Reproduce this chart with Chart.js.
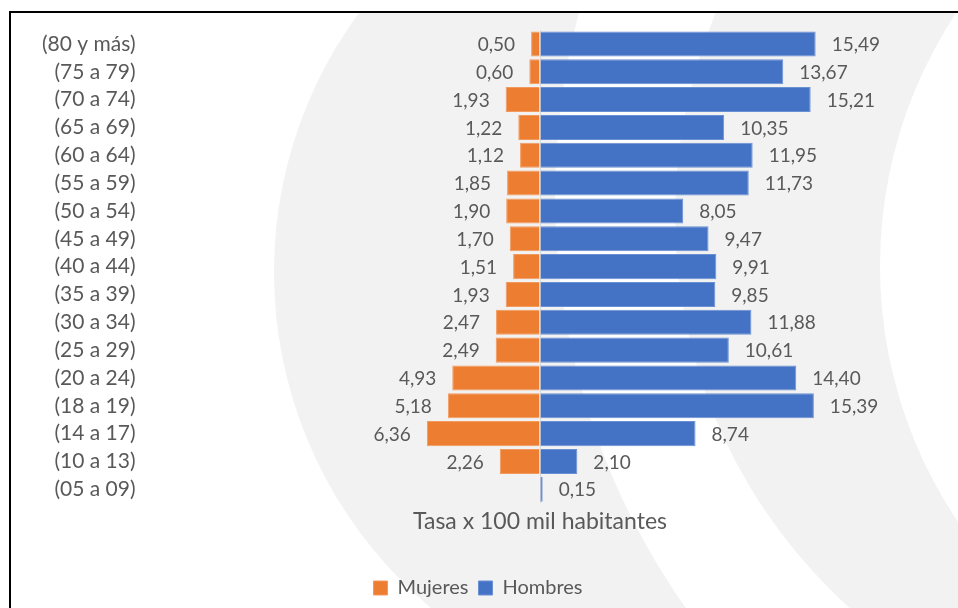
<!DOCTYPE html>
<html>
<head>
<meta charset="utf-8">
<script src="https://cdn.jsdelivr.net/npm/chart.js@4.4.1/dist/chart.umd.min.js"></script>
<style>
  html, body { margin: 0; padding: 0; background: #fff; }
</style>
</head>
<body>
<canvas id="piramide" width="958" height="608"></canvas>
<script>
// grupos de edad, de arriba hacia abajo
const grupos = ['(80 y más)', '(75 a 79)', '(70 a 74)', '(65 a 69)', '(60 a 64)', '(55 a 59)',
  '(50 a 54)', '(45 a 49)', '(40 a 44)', '(35 a 39)', '(30 a 34)', '(25 a 29)',
  '(20 a 24)', '(18 a 19)', '(14 a 17)', '(10 a 13)', '(05 a 09)'];
const mujeres = [0.50, 0.60, 1.93, 1.22, 1.12, 1.85, 1.90, 1.70, 1.51, 1.93, 2.47, 2.49, 4.93, 5.18, 6.36, 2.26, null];
const hombres = [15.49, 13.67, 15.21, 10.35, 11.95, 11.73, 8.05, 9.47, 9.91, 9.85, 11.88, 10.61, 14.40, 15.39, 8.74, 2.10, 0.15];
const ejeMin = -22;
const ejeMax = 22;

const gris = '#595959';
const fuente = 'Lato, "Open Sans", sans-serif';

function coma(v) {
  return v.toFixed(2).replace('.', ',');
}

// fondo con marco y marca de agua en arcos
const fondo = {
  id: 'fondo',
  beforeDraw(chart) {
    const ctx = chart.ctx;
    const w = chart.width, h = chart.height;
    ctx.save();
    ctx.fillStyle = '#fff';
    ctx.fillRect(0, 0, w, h);
    ctx.beginPath();
    ctx.rect(11, 13, w - 11, h - 13);
    ctx.clip();
    ctx.fillStyle = '#f2f2f2';
    // arco izquierdo
    ctx.save();
    ctx.beginPath();
    ctx.arc(712, 272, 438, 0, Math.PI * 2);
    ctx.clip();
    ctx.beginPath();
    ctx.rect(0, 0, w, h);
    ctx.arc(1269, 196, 714, 0, Math.PI * 2);
    ctx.fill('evenodd');
    ctx.restore();
    // arco derecho
    ctx.save();
    ctx.beginPath();
    ctx.arc(1202, 216, 527, 0, Math.PI * 2);
    ctx.clip();
    ctx.beginPath();
    ctx.rect(0, 0, w, h);
    ctx.arc(1339, 266, 459, 0, Math.PI * 2);
    ctx.fill('evenodd');
    ctx.restore();
    ctx.restore();
    // marco
    ctx.save();
    ctx.fillStyle = '#000';
    ctx.fillRect(9, 11, w - 9, 2);
    ctx.fillRect(9, 11, 2, h - 11);
    ctx.restore();
  }
};

// etiquetas de valor junto a cada barra
const etiquetas = {
  id: 'etiquetas',
  afterDatasetsDraw(chart) {
    const ctx = chart.ctx;
    ctx.save();
    ctx.font = '19px ' + fuente;
    ctx.fillStyle = gris;
    ctx.textBaseline = 'middle';
    chart.data.datasets.forEach((ds, i) => {
      const valores = i === 0 ? mujeres : hombres;
      chart.getDatasetMeta(i).data.forEach((bar, j) => {
        const v = valores[j];
        if (v == null) return;
        if (i === 0) {
          ctx.textAlign = 'right';
          ctx.fillText(coma(v), bar.x - 16, bar.y + 1);
        } else {
          ctx.textAlign = 'left';
          ctx.fillText(coma(v), bar.x + 16, bar.y + 1);
        }
      });
    });
    ctx.restore();
  }
};

function dibujar() {
  new Chart(document.getElementById('piramide'), {
    type: 'bar',
    data: {
      labels: grupos,
      datasets: [
        {
          label: 'Mujeres',
          data: mujeres.map(v => v == null ? null : -v),
          backgroundColor: '#ed7d31',
          borderColor: '#f29a5e',
          borderWidth: 1
        },
        {
          label: 'Hombres',
          data: hombres,
          backgroundColor: '#4472c4',
          borderColor: '#6a90d4',
          borderWidth: 1
        }
      ]
    },
    options: {
      indexAxis: 'y',
      responsive: false,
      animation: false,
      layout: { padding: { top: 30, left: 24.5, right: 26.5, bottom: 0 } },
      datasets: { bar: { categoryPercentage: 0.9, barPercentage: 1 } },
      scales: {
        x: {
          stacked: true,
          min: ejeMin,
          max: ejeMax,
          border: { display: false },
          grid: {
            drawTicks: false,
            color: c => (c.tick && c.tick.value === 0) ? '#d9d9d9' : 'rgba(0,0,0,0)'
          },
          ticks: { display: false },
          title: {
            display: true,
            text: 'Tasa x 100 mil habitantes',
            color: gris,
            font: { family: fuente, size: 23 },
            padding: { top: 4.6, bottom: 32.6 }
          }
        },
        y: {
          stacked: true,
          border: { display: false },
          grid: { display: false, drawTicks: false },
          ticks: { color: gris, font: { family: fuente, size: 21 }, padding: 13, autoSkip: false },
          afterFit: s => { s.width = 124; }
        }
      },
      plugins: {
        legend: {
          position: 'bottom',
          labels: {
            color: gris,
            font: { family: fuente, size: 20 },
            boxWidth: 14,
            boxHeight: 14,
            padding: 10
          }
        },
        tooltip: { enabled: false }
      }
    },
    plugins: [fondo, etiquetas]
  });
}

if (document.fonts && document.fonts.load) {
  Promise.all([document.fonts.load('19px Lato'), document.fonts.load('23px Lato')]).then(dibujar, dibujar);
} else {
  dibujar();
}
</script>
</body>
</html>
